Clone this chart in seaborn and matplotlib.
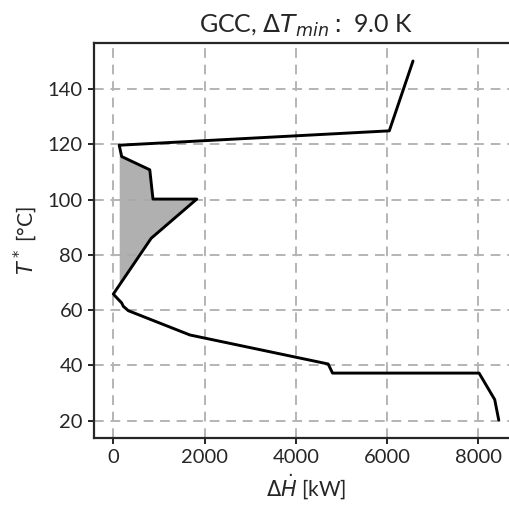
import numpy as np
import pandas as pd
import matplotlib
matplotlib.use("Agg")
import matplotlib.pyplot as plt
import seaborn as sns

# grand composite curve points
temps = [150.2, 124.9, 119.7, 115.6, 110.8, 100.2, 100.2, 86.0, 65.8,
         62.6, 61.4, 59.8, 51.0, 40.5, 37.2, 37.2, 27.6, 20.2]
heat = [6570, 6050, 130, 184, 800, 870, 1830, 830, 0,
        184, 219, 329, 1680, 4710, 4806, 8018, 8361, 8449]

# heat pocket (between 120 and 66 degC)
pocket_t = [119.7, 115.6, 110.8, 100.2, 100.2, 86.0, 65.8]
pocket_h = [130, 184, 800, 870, 1830, 830, 0]
pocket_base = 130

title = r"GCC, $\Delta T_{min}:$ 9.0 K"
xlabel = r"$\Delta\dot{H}$ [kW]"
ylabel = r"$T^*$ [°C]"

sns.set_style("ticks")
plt.rcParams['font.family'] = ['Lato', 'DejaVu Sans']
plt.rcParams['mathtext.fontset'] = 'dejavusans'

df = pd.DataFrame({"dH": heat, "T": temps})

fig = plt.figure(figsize=(5.09, 5.12), dpi=100)
ax = fig.add_axes([0.1847, 0.1445, 0.833, 0.7715])

ax.fill_betweenx(pocket_t, pocket_h, pocket_base,
                 where=np.array(pocket_h) >= pocket_base, interpolate=True,
                 color="#a8a8a8", alpha=0.9, zorder=1, linewidth=0)
sns.lineplot(data=df, x="dH", y="T", sort=False, estimator=None,
             color="black", linewidth=2.1, ax=ax, zorder=3)

ax.set_xticks([0, 2000, 4000, 6000, 8000])
ax.set_yticks([20, 40, 60, 80, 100, 120, 140])
ax.grid(True, linestyle=(0, (5, 3.5)), color="#b4b4b4", linewidth=1.4, zorder=0)
ax.set_axisbelow(True)

for s in ax.spines.values():
    s.set_linewidth(1.6)
ax.tick_params(length=4, width=1.2, labelsize=14.5, color="black", pad=4)

ax.set_title(title, fontsize=18, pad=7)
ax.set_xlabel(xlabel, fontsize=15, labelpad=5)
ax.set_ylabel(ylabel, fontsize=15, labelpad=6)

fig.savefig("out.png", dpi=100)
